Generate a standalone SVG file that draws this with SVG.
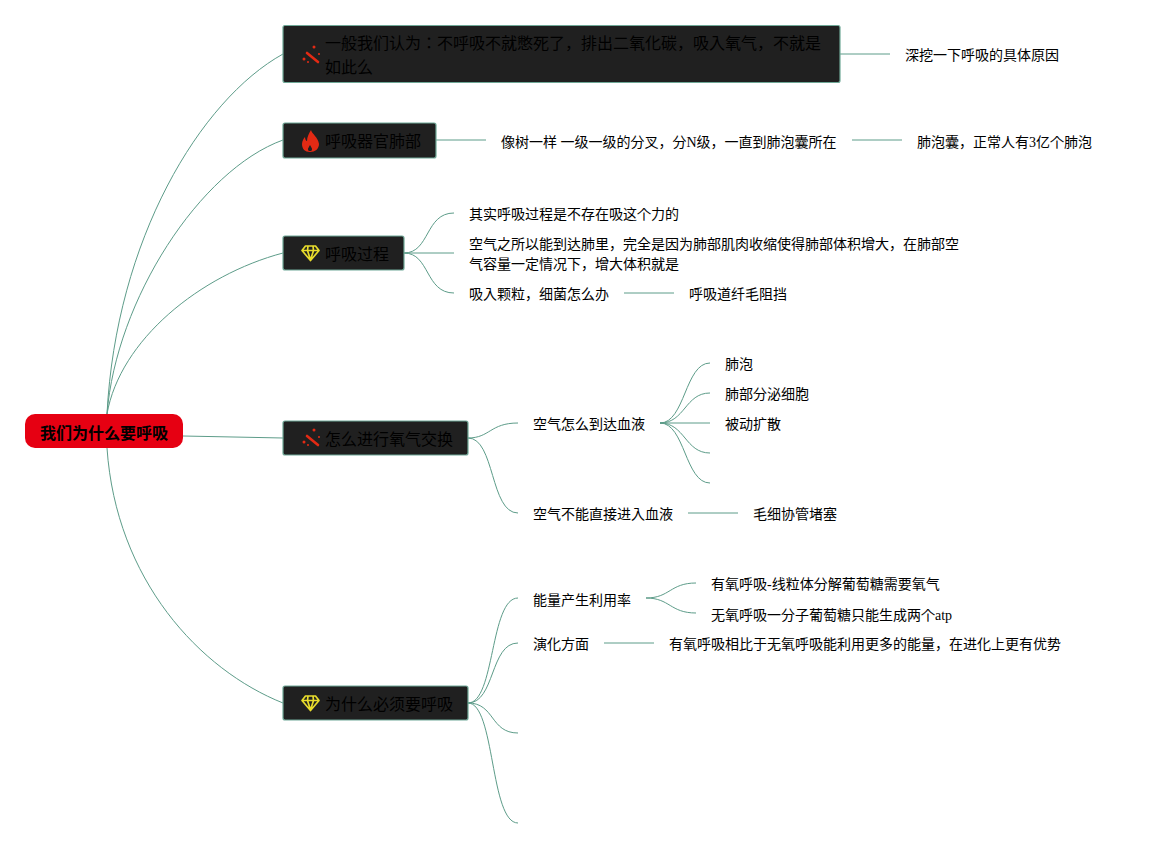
<svg xmlns="http://www.w3.org/2000/svg" width="1152" height="848" viewBox="0 0 1152 848">
<style>
text{font-family:"Liberation Serif","Noto Sans CJK JP",serif;fill:#000}
.l{font-size:14px}
.t{font-size:16px}
.r{font-size:16px;font-weight:700}
.b{fill:#202020;stroke:#6fa897;stroke-width:1.2}
#c path{fill:none;stroke:#5d9c89;stroke-width:1}
.red{fill:#e32a14}
.y{fill:#e8dc2c}
</style>
<defs>
<g id="wand"><path d="M-4-2L7 7" fill="none" stroke="#e32a14" stroke-width="2.600" stroke-linecap="round"/><circle class="red" cx="3" cy="-8" r="1.500"/><circle class="red" cx="-7" cy="4" r="1.500"/><circle class="red" cx="8" cy="-1" r="1"/><circle class="red" cx="-3" cy="7" r="1"/></g>
<g id="gem"><path d="M-5-7H5L8.500-2.500 0 7.500-8.500-2.500ZM-8-2.500H8M-2.500-7L-3-2.500 0 7 3-2.500 2.500-7" fill="none" stroke="#e8dc2c" stroke-width="1.700" stroke-linejoin="round"/></g>
</defs>
<g id="c">
<path d="M107 414C116 240 200 100 283 54"/>
<path d="M107 414C116 300 200 170 283 140"/>
<path d="M107 414C120 340 200 275 283 253"/>
<path d="M183 436L283 438"/>
<path d="M107 448C116 580 200 670 283 703"/>
<path d="M840 54H890"/>
<path d="M436 140H486"/>
<path d="M852 140H902"/>
<path d="M404 253C430 253 425 213 454 213"/>
<path d="M404 253H454"/>
<path d="M404 253C430 253 425 293 454 293"/>
<path d="M624 293H674"/>
<path d="M468 438C490 438 490 423 518 423"/>
<path d="M468 438C495 438 490 513 518 513"/>
<path d="M660 423C685 423 685 363 710 363"/>
<path d="M660 423C685 423 685 393 710 393"/>
<path d="M660 423H710"/>
<path d="M660 423C685 423 685 453 710 453"/>
<path d="M660 423C685 423 685 483 710 483"/>
<path d="M688 513H738"/>
<path d="M468 703C495 703 490 598 518 598"/>
<path d="M468 703C495 703 490 643 518 643"/>
<path d="M468 703C495 703 490 733 518 733"/>
<path d="M468 703C495 703 490 823 518 823"/>
<path d="M646 598C670 598 670 583 696 583"/>
<path d="M646 598C670 598 670 613 696 613"/>
<path d="M604 643H654"/>
</g>
<g id="root"><rect x="25" y="414" width="158" height="34" rx="10" fill="#e60012"/><text class="r" x="40" y="439">我们为什么要呼吸</text></g>
<g id="n1"><rect class="b" x="283" y="25.500" width="557" height="57" rx="2"/><use href="#wand" x="311" y="55"/><text class="t" x="325" y="49">一般我们认为：不呼吸不就憋死了，排出二氧化碳，吸入氧气，不就是</text><text class="t" x="325" y="73">如此么</text></g>
<g id="n2"><rect class="b" x="283" y="123" width="153" height="35" rx="2"/><path class="red" d="M311 130C312 134 318 137 319 144C319 149 315 152 310 152C305 152 302 149 302 144C302 141 304 138 305 137C305 139 306 141 307 141C307 137 309 133 311 130ZM310 145C309 147 308 148 308 149C308 151 309 151 310 151C311 151 312 151 312 149C312 148 311 147 310 145Z" fill-rule="evenodd"/><text class="t" x="325" y="147">呼吸器官肺部</text></g>
<g id="n3"><rect class="b" x="283" y="236" width="121" height="34" rx="2"/><use href="#gem" x="310.500" y="253"/><text class="t" x="325" y="260">呼吸过程</text></g>
<g id="n4"><rect class="b" x="283" y="421" width="185" height="34" rx="2"/><use href="#wand" x="311" y="438"/><text class="t" x="325" y="445">怎么进行氧气交换</text></g>
<g id="n5"><rect class="b" x="283" y="686" width="185" height="34" rx="2"/><use href="#gem" x="310.500" y="703"/><text class="t" x="325" y="710">为什么必须要呼吸</text></g>
<g id="leaves">
<text class="l" x="905" y="60">深挖一下呼吸的具体原因</text>
<text class="l" x="501" y="147">像树一样 一级一级的分叉，分N级，一直到肺泡囊所在</text>
<text class="l" x="917" y="147">肺泡囊，正常人有3亿个肺泡</text>
<text class="l" x="469" y="219">其实呼吸过程是不存在吸这个力的</text>
<text class="l" x="469" y="249">空气之所以能到达肺里，完全是因为肺部肌肉收缩使得肺部体积增大，在肺部空</text>
<text class="l" x="469" y="269">气容量一定情况下，增大体积就是</text>
<text class="l" x="469" y="299">吸入颗粒，细菌怎么办</text>
<text class="l" x="689" y="299">呼吸道纤毛阻挡</text>
<text class="l" x="533" y="429">空气怎么到达血液</text>
<text class="l" x="725" y="369">肺泡</text>
<text class="l" x="725" y="399">肺部分泌细胞</text>
<text class="l" x="725" y="429">被动扩散</text>
<text class="l" x="533" y="519">空气不能直接进入血液</text>
<text class="l" x="753" y="519">毛细协管堵塞</text>
<text class="l" x="533" y="605">能量产生利用率</text>
<text class="l" x="711" y="589">有氧呼吸-线粒体分解葡萄糖需要氧气</text>
<text class="l" x="711" y="620">无氧呼吸一分子葡萄糖只能生成两个atp</text>
<text class="l" x="533" y="649">演化方面</text>
<text class="l" x="669" y="649">有氧呼吸相比于无氧呼吸能利用更多的能量，在进化上更有优势</text>
</g>
</svg>
